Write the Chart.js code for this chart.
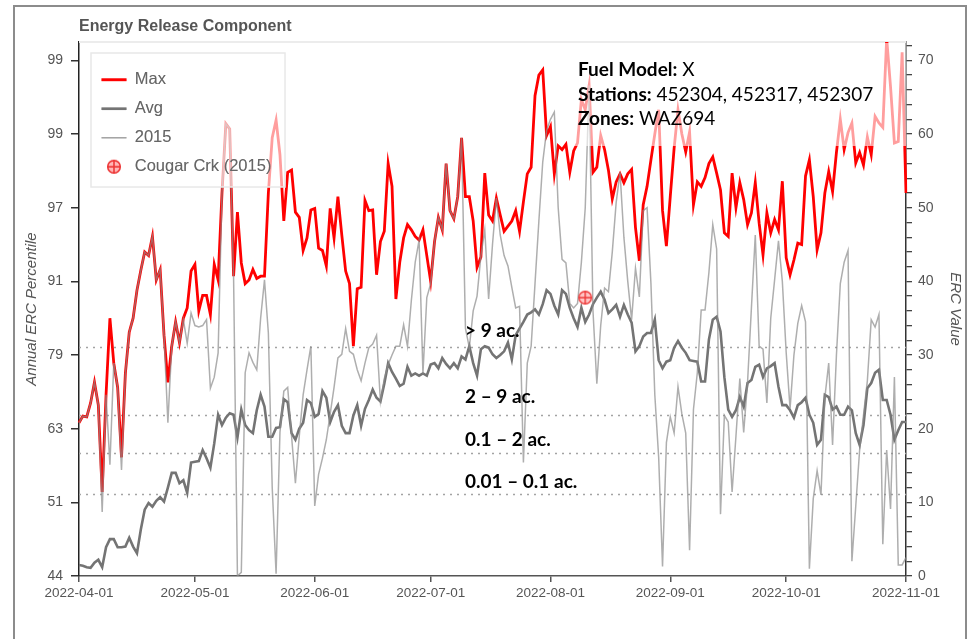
<!DOCTYPE html>
<html>
<head>
<meta charset="utf-8">
<script src="https://cdn.jsdelivr.net/npm/chart.js@4.4.1/dist/chart.umd.min.js"></script>
<style>
  html, body { margin: 0; padding: 0; background: #fff; overflow: hidden; }
  #wrap { position: relative; width: 972px; height: 639px; }
  #marco { position: absolute; left: 13px; top: 5px; width: 950px; height: 700px; border: 2px solid #8c8c8c; pointer-events: none; }
  canvas { position: absolute; left: 0; top: 0; }
</style>
</head>
<body>
<div id="wrap">
  <canvas id="erc" width="972" height="639"></canvas>
  <div id="marco"></div>
</div>
<script>
// datos (ERC diario desde el 2022-04-01)
var fechaInicio = '2022-04-01';

var maxErc = [
  20.8, 21.7, 21.6, 23.5, 26.3, 23.2, 11.4, 24.6, 35.0, 28.9,
  25.6, 16.1, 27.5, 33.1, 35.0, 38.8, 41.5, 44.0, 43.5, 46.1,
  40.2, 41.6, 32.7, 26.3, 31.2, 34.5, 31.7, 35.0, 36.4, 41.4,
  42.3, 36.0, 38.1, 38.1, 35.5, 42.3, 40.2, 52.0, 61.4, 60.7,
  40.7, 49.4, 42.5, 39.7, 40.2, 41.6, 40.4, 40.7, 40.7, 52.0,
  59.5, 61.9, 57.2, 48.2, 54.8, 55.1, 49.4, 48.7, 44.2, 45.9,
  49.7, 49.9, 44.5, 44.2, 42.1, 49.9, 45.9, 51.5, 46.3, 41.4,
  39.7, 31.2, 39.0, 39.2, 51.0, 49.6, 49.7, 40.9, 45.4, 46.8,
  56.0, 52.9, 37.6, 42.6, 45.9, 47.7, 47.0, 46.1, 45.6, 47.0,
  43.5, 40.0, 45.4, 48.7, 47.0, 56.0, 49.6, 48.5, 51.5, 59.5,
  51.5, 51.5, 48.2, 41.9, 43.3, 54.7, 49.0, 48.2, 51.3, 49.0,
  46.8, 47.5, 48.2, 49.6, 46.8, 50.8, 54.6, 55.5, 65.2, 68.0,
  68.7, 59.8, 61.0, 54.6, 58.4, 57.9, 58.6, 54.8, 57.7, 58.8,
  64.7, 63.3, 66.6, 54.8, 55.5, 59.8, 57.9, 55.1, 51.2, 53.5,
  54.6, 53.4, 54.6, 55.2, 47.3, 42.8, 50.4, 52.9, 56.5, 60.0,
  63.3, 49.6, 44.8, 51.5, 58.1, 63.3, 60.0, 57.6, 60.3, 50.4,
  53.5, 52.9, 54.1, 56.0, 56.9, 54.7, 52.4, 46.6, 46.1, 54.7,
  50.0, 53.4, 51.1, 47.7, 49.3, 53.4, 47.9, 43.6, 49.3, 46.6,
  48.4, 47.0, 53.6, 43.2, 40.9, 42.9, 45.2, 45.0, 54.3, 56.5,
  51.5, 44.3, 46.6, 52.0, 54.9, 52.2, 57.5, 62.0, 57.9, 60.2,
  61.5, 56.1, 57.5, 55.8, 59.6, 57.2, 62.4, 61.5, 60.9, 73.0,
  66.4, 58.8, 59.0, 71.1, 52.0
];

var avgErc = [
  1.5, 1.4, 1.2, 1.1, 1.8, 2.2, 1.2, 3.9, 5.0, 5.0,
  3.9, 3.9, 4.0, 5.2, 4.0, 3.1, 6.3, 9.0, 9.9, 9.4,
  10.2, 10.7, 10.1, 12.0, 14.0, 14.0, 12.6, 13.0, 11.3, 15.4,
  15.5, 15.6, 17.1, 16.0, 14.7, 18.0, 21.9, 20.5, 21.5, 22.1,
  21.9, 18.8, 22.6, 20.5, 19.8, 19.4, 22.5, 24.6, 23.0, 18.9,
  18.9, 20.1, 20.2, 24.0, 23.6, 19.4, 18.5, 20.0, 20.8, 23.9,
  23.5, 21.6, 22.0, 25.1, 24.2, 20.9, 22.3, 23.2, 20.4, 19.4,
  19.4, 21.8, 23.2, 20.4, 22.7, 23.9, 25.3, 24.2, 23.7, 26.1,
  28.9, 27.7, 26.8, 25.8, 26.1, 28.4, 27.2, 27.5, 27.2, 27.5,
  27.2, 28.7, 28.9, 28.2, 29.6, 28.8, 28.2, 28.9, 28.2, 29.8,
  29.4, 31.2, 28.9, 27.2, 30.8, 31.2, 31.0, 30.1, 29.6, 30.0,
  30.5, 31.7, 29.4, 32.7, 33.6, 34.5, 35.5, 35.8, 36.2, 35.5,
  36.9, 38.8, 38.3, 36.7, 35.5, 38.8, 38.3, 36.4, 35.0, 33.8,
  36.4, 34.5, 35.5, 36.9, 37.8, 38.6, 37.5, 35.7, 36.2, 36.8,
  35.2, 36.8, 35.5, 34.4, 30.5, 31.2, 32.5, 33.0, 33.0, 34.8,
  29.3, 28.2, 29.1, 29.3, 31.0, 31.9, 31.0, 30.3, 29.3, 29.2,
  29.1, 26.4, 26.4, 32.1, 34.8, 35.2, 33.2, 27.0, 22.6, 21.6,
  22.5, 24.3, 23.0, 26.2, 26.6, 28.4, 28.7, 27.0, 28.2, 28.5,
  28.9, 25.7, 23.2, 23.2, 22.5, 21.5, 23.2, 23.6, 24.2, 21.9,
  20.8, 17.8, 18.5, 24.6, 24.3, 22.6, 23.0, 21.9, 21.9, 23.0,
  22.5, 19.4, 17.8, 20.5, 25.5, 26.2, 27.6, 28.0, 23.9, 23.9,
  21.9, 18.5, 19.8, 20.9, 20.9
];

var erc2015 = [
  20.8, 21.7, 21.6, 23.5, 26.3, 23.2, 8.7, 24.6, 15.1, 28.9,
  25.6, 14.4, 27.5, 33.1, 35.0, 38.8, 41.5, 44.0, 43.5, 46.1,
  40.2, 41.6, 32.7, 20.8, 31.2, 34.5, 31.7, 34.8, 31.6, 35.7,
  34.0, 33.8, 34.0, 34.8, 25.5, 27.0, 30.3, 52.0, 61.4, 60.7,
  40.6, 0.0, 0.5, 27.6, 30.3, 29.0, 28.0, 35.0, 40.2, 33.0,
  12.0, 0.3, 19.5, 25.1, 25.6, 19.0, 12.6, 19.0, 24.6, 28.0,
  31.2, 9.5, 13.8, 16.0, 18.5, 22.0, 25.6, 29.6, 30.1, 33.6,
  30.5, 30.1, 28.0, 26.5, 28.9, 31.0, 31.5, 32.7, 23.7, 26.8,
  28.7, 30.0, 31.2, 31.2, 34.1, 31.2, 37.4, 42.6, 45.6, 27.5,
  37.8, 39.7, 45.4, 48.7, 47.0, 56.0, 49.6, 48.5, 51.5, 59.5,
  33.6, 31.0, 36.0, 38.0, 43.5, 47.0, 37.6, 45.0, 51.3, 46.3,
  43.5, 42.1, 39.2, 36.4, 36.6, 15.4, 28.9, 31.2, 39.7, 48.2,
  56.2, 60.5, 62.0, 63.0, 50.0, 43.0, 42.5, 37.0, 36.4, 37.0,
  42.6, 50.0, 66.6, 36.0, 26.1, 34.0, 39.1, 38.6, 44.0, 50.7,
  54.8, 46.0, 40.0, 34.8, 41.8, 37.9, 49.6, 50.0, 39.7, 24.6,
  16.1, 1.3, 18.1, 21.6, 19.4, 25.7, 22.0, 19.4, 3.5, 22.6,
  27.6, 36.1, 36.1, 41.2, 47.7, 44.4, 8.4, 21.8, 20.9, 11.4,
  19.0, 26.8, 19.5, 26.3, 36.4, 46.3, 31.2, 30.8, 23.5, 35.0,
  40.2, 45.5, 40.0, 30.3, 22.7, 30.0, 34.3, 36.7, 34.5, 1.0,
  10.5, 14.3, 11.0, 24.2, 28.9, 17.8, 30.0, 39.7, 42.6, 44.2,
  2.0, 9.5, 17.1, 21.8, 26.5, 34.8, 33.8, 35.5, 4.3, 17.1,
  9.1, 27.0, 1.5, 1.5, 2.5
];

// eje izquierdo: percentil anual para cada valor de ERC
var percTicks = [0, 10, 20, 30, 40, 50, 60, 70];
var percLabels = ['44', '51', '63', '79', '91', '97', '99', '99'];

// incendio de referencia
var fuegoNombre = 'Cougar Crk (2015)';
var fuegoFecha = '2022-08-10';
var fuegoErc = 37.8;

// umbrales de tamaño de incendio (valor ERC)
var niveles = [31.1, 21.9, 16.7, 11.1];
var nivelesTexto = ['> 9 ac.', '2 \u2013 9 ac.', '0.1 \u2013 2 ac.', '0.01 \u2013 0.1 ac.'];

var info = [
  ['Fuel Model:', ' X'],
  ['Stations:', ' 452304, 452317, 452307'],
  ['Zones:', ' WAZ694']
];

var fechas = [];
var t0 = new Date(fechaInicio + 'T00:00:00Z').getTime();
for (var i = 0; i < maxErc.length; i++) {
  fechas.push(new Date(t0 + i * 86400000).toISOString().slice(0, 10));
}

var fuente = '"Liberation Sans", Arial, sans-serif';
Chart.defaults.font.family = fuente;
Chart.defaults.color = '#666';

function iconoFuego() {
  var c = document.createElement('canvas');
  c.width = 16; c.height = 16;
  var g = c.getContext('2d');
  g.beginPath();
  g.arc(8, 8, 6.3, 0, 2 * Math.PI);
  g.fillStyle = 'rgba(255,90,90,0.35)';
  g.fill();
  g.lineWidth = 1.4;
  g.strokeStyle = 'rgba(235,40,40,0.9)';
  g.stroke();
  g.beginPath();
  g.moveTo(8, 1.8); g.lineTo(8, 14.2);
  g.moveTo(1.8, 8); g.lineTo(14.2, 8);
  g.stroke();
  return c;
}

var extras = {
  id: 'extras',
  afterLayout: function(chart) {
    // leyenda dentro del area, algo desplazada
    var ca = chart.chartArea;
    chart.legend.left = ca.left + 10;
    chart.legend.top = ca.top + 17;
    chart.legend.bottom = ca.bottom;
  },
  beforeDatasetsDraw: function(chart) {
    var ctx = chart.ctx, ca = chart.chartArea, ys = chart.scales.y;
    ctx.save();
    ctx.strokeStyle = '#ececec';
    ctx.lineWidth = 2;
    ctx.beginPath();
    ctx.moveTo(ca.left, ca.top);
    ctx.lineTo(ca.right, ca.top);
    ctx.stroke();
    ctx.setLineDash([2, 5]);
    ctx.strokeStyle = '#a3a3a3';
    ctx.lineWidth = 1.6;
    niveles.forEach(function(v) {
      var py = Math.round(ys.getPixelForValue(v)) + 0.5;
      ctx.beginPath();
      ctx.moveTo(ca.left, py);
      ctx.lineTo(ca.right, py);
      ctx.stroke();
    });
    ctx.restore();
  },
  afterDatasetsDraw: function(chart) {
    var ctx = chart.ctx, ca = chart.chartArea, ys = chart.scales.y;
    ctx.save();
    // etiquetas de umbrales
    var subir = [16, 18, 13, 12];
    ctx.font = 'bold 19px Lato, sans-serif';
    ctx.fillStyle = '#000';
    ctx.textBaseline = 'middle';
    niveles.forEach(function(v, k) {
      ctx.fillText(nivelesTexto[k], ca.left + 386, ys.getPixelForValue(v) - subir[k]);
    });

    // caja de info arriba a la derecha
    ctx.fillStyle = 'rgba(255,255,255,0.62)';
    ctx.fillRect(ca.right - 334, ca.top + 1, 334, 103);
    ctx.fillStyle = '#000';
    info.forEach(function(l, k) {
      var y = ca.top + 28 + k * 24.5;
      ctx.font = 'bold 19px Lato, sans-serif';
      ctx.fillText(l[0], ca.right - 328, y);
      var w = ctx.measureText(l[0]).width;
      ctx.font = '19px Lato, sans-serif';
      ctx.fillText(l[1], ca.right - 328 + w, y);
    });

    // caja de la leyenda
    ctx.fillStyle = 'rgba(255,255,255,0.62)';
    ctx.fillRect(ca.left + 12, ca.top + 11, 194, 134);
    ctx.strokeStyle = '#e8e8e8';
    ctx.lineWidth = 1.5;
    ctx.strokeRect(ca.left + 12, ca.top + 11, 194, 134);
    ctx.restore();
    chart.legend.draw();

    // titulo
    ctx.save();
    ctx.font = 'bold 16px ' + fuente;
    ctx.fillStyle = '#555';
    ctx.textBaseline = 'middle';
    ctx.fillText('Energy Release Component', ca.left, 27);
    ctx.restore();
  }
};

var ctx = document.getElementById('erc').getContext('2d');
var grafico = new Chart(ctx, {
  type: 'line',
  data: {
    labels: fechas,
    datasets: [
      { label: 'Max', data: maxErc, borderColor: '#ff0000', borderWidth: 2.8,
        pointRadius: 0, pointStyle: 'line', tension: 0, order: 3 },
      { label: 'Avg', data: avgErc, borderColor: '#747474', borderWidth: 2.6,
        pointRadius: 0, pointStyle: 'line', tension: 0, order: 2 },
      { label: '2015', data: erc2015, borderColor: 'rgba(140,140,140,0.7)', borderWidth: 1.5,
        pointRadius: 0, pointStyle: 'line', tension: 0, order: 1 },
      { label: fuegoNombre, data: [{ x: fuegoFecha, y: fuegoErc }], showLine: false,
        pointStyle: iconoFuego(), pointRadius: 7, borderColor: 'rgba(235,40,40,0.9)',
        backgroundColor: 'rgba(255,90,90,0.35)', order: 0 }
    ]
  },
  options: {
    responsive: false,
    animation: false,
    events: [],
    layout: { padding: { left: 16, right: 8, top: 42, bottom: 33 } },
    plugins: {
      tooltip: { enabled: false },
      title: { display: false },
      legend: {
        position: 'chartArea',
        align: 'start',
        labels: {
          usePointStyle: true,
          pointStyleWidth: 25,
          padding: 12.5,
          color: '#666',
          font: { size: 16.5 },
          sort: function(a, b) { return a.datasetIndex - b.datasetIndex; }
        }
      }
    },
    scales: {
      x: {
        type: 'category',
        offset: false,
        afterBuildTicks: function(s) {
          s.ticks = s.ticks.filter(function(t) { return fechas[t.value].slice(8) === '01'; });
        },
        afterFit: function(s) { s.height = 30; },
        ticks: { autoSkip: false, maxRotation: 0, color: '#555', padding: 3, font: { size: 13.5 } },
        grid: { drawOnChartArea: false, drawTicks: true, tickLength: 6, color: '#555', lineWidth: 1.5 },
        border: { display: true, color: '#555', width: 1.5 }
      },
      y: {
        position: 'left',
        min: 0,
        max: 72.5,
        afterBuildTicks: function(s) {
          s.ticks = percTicks.map(function(v) { return { value: v }; });
        },
        afterFit: function(s) { s.width = 63; },
        ticks: {
          autoSkip: false, color: '#555', padding: 8, font: { size: 14 },
          callback: function(v) {
            var k = percTicks.indexOf(v);
            return k < 0 ? '' : percLabels[k];
          }
        },
        grid: { drawOnChartArea: false, tickLength: 8, color: '#333', lineWidth: 1.5 },
        border: { display: true, color: '#222', width: 1.5 },
        title: { display: true, text: 'Annual ERC Percentile', color: '#555',
                 font: { size: 15, style: 'italic' }, padding: { top: 7, bottom: 0 } }
      },
      y2: {
        position: 'right',
        min: 0,
        max: 72.5,
        afterFit: function(s) { s.width = 58; },
        ticks: {
          stepSize: 2, includeBounds: false, autoSkip: false, color: '#555', padding: 6, font: { size: 14 },
          callback: function(v) { return v % 10 === 0 ? v : ''; }
        },
        grid: { drawOnChartArea: false, tickLength: 6, color: '#444', lineWidth: 1.3 },
        border: { display: true, color: '#333', width: 1.5 },
        title: { display: true, text: 'ERC Value', color: '#555',
                 font: { size: 15, style: 'italic' }, padding: { top: 0, bottom: 0 } }
      }
    }
  },
  plugins: [extras]
});
</script>
</body>
</html>
